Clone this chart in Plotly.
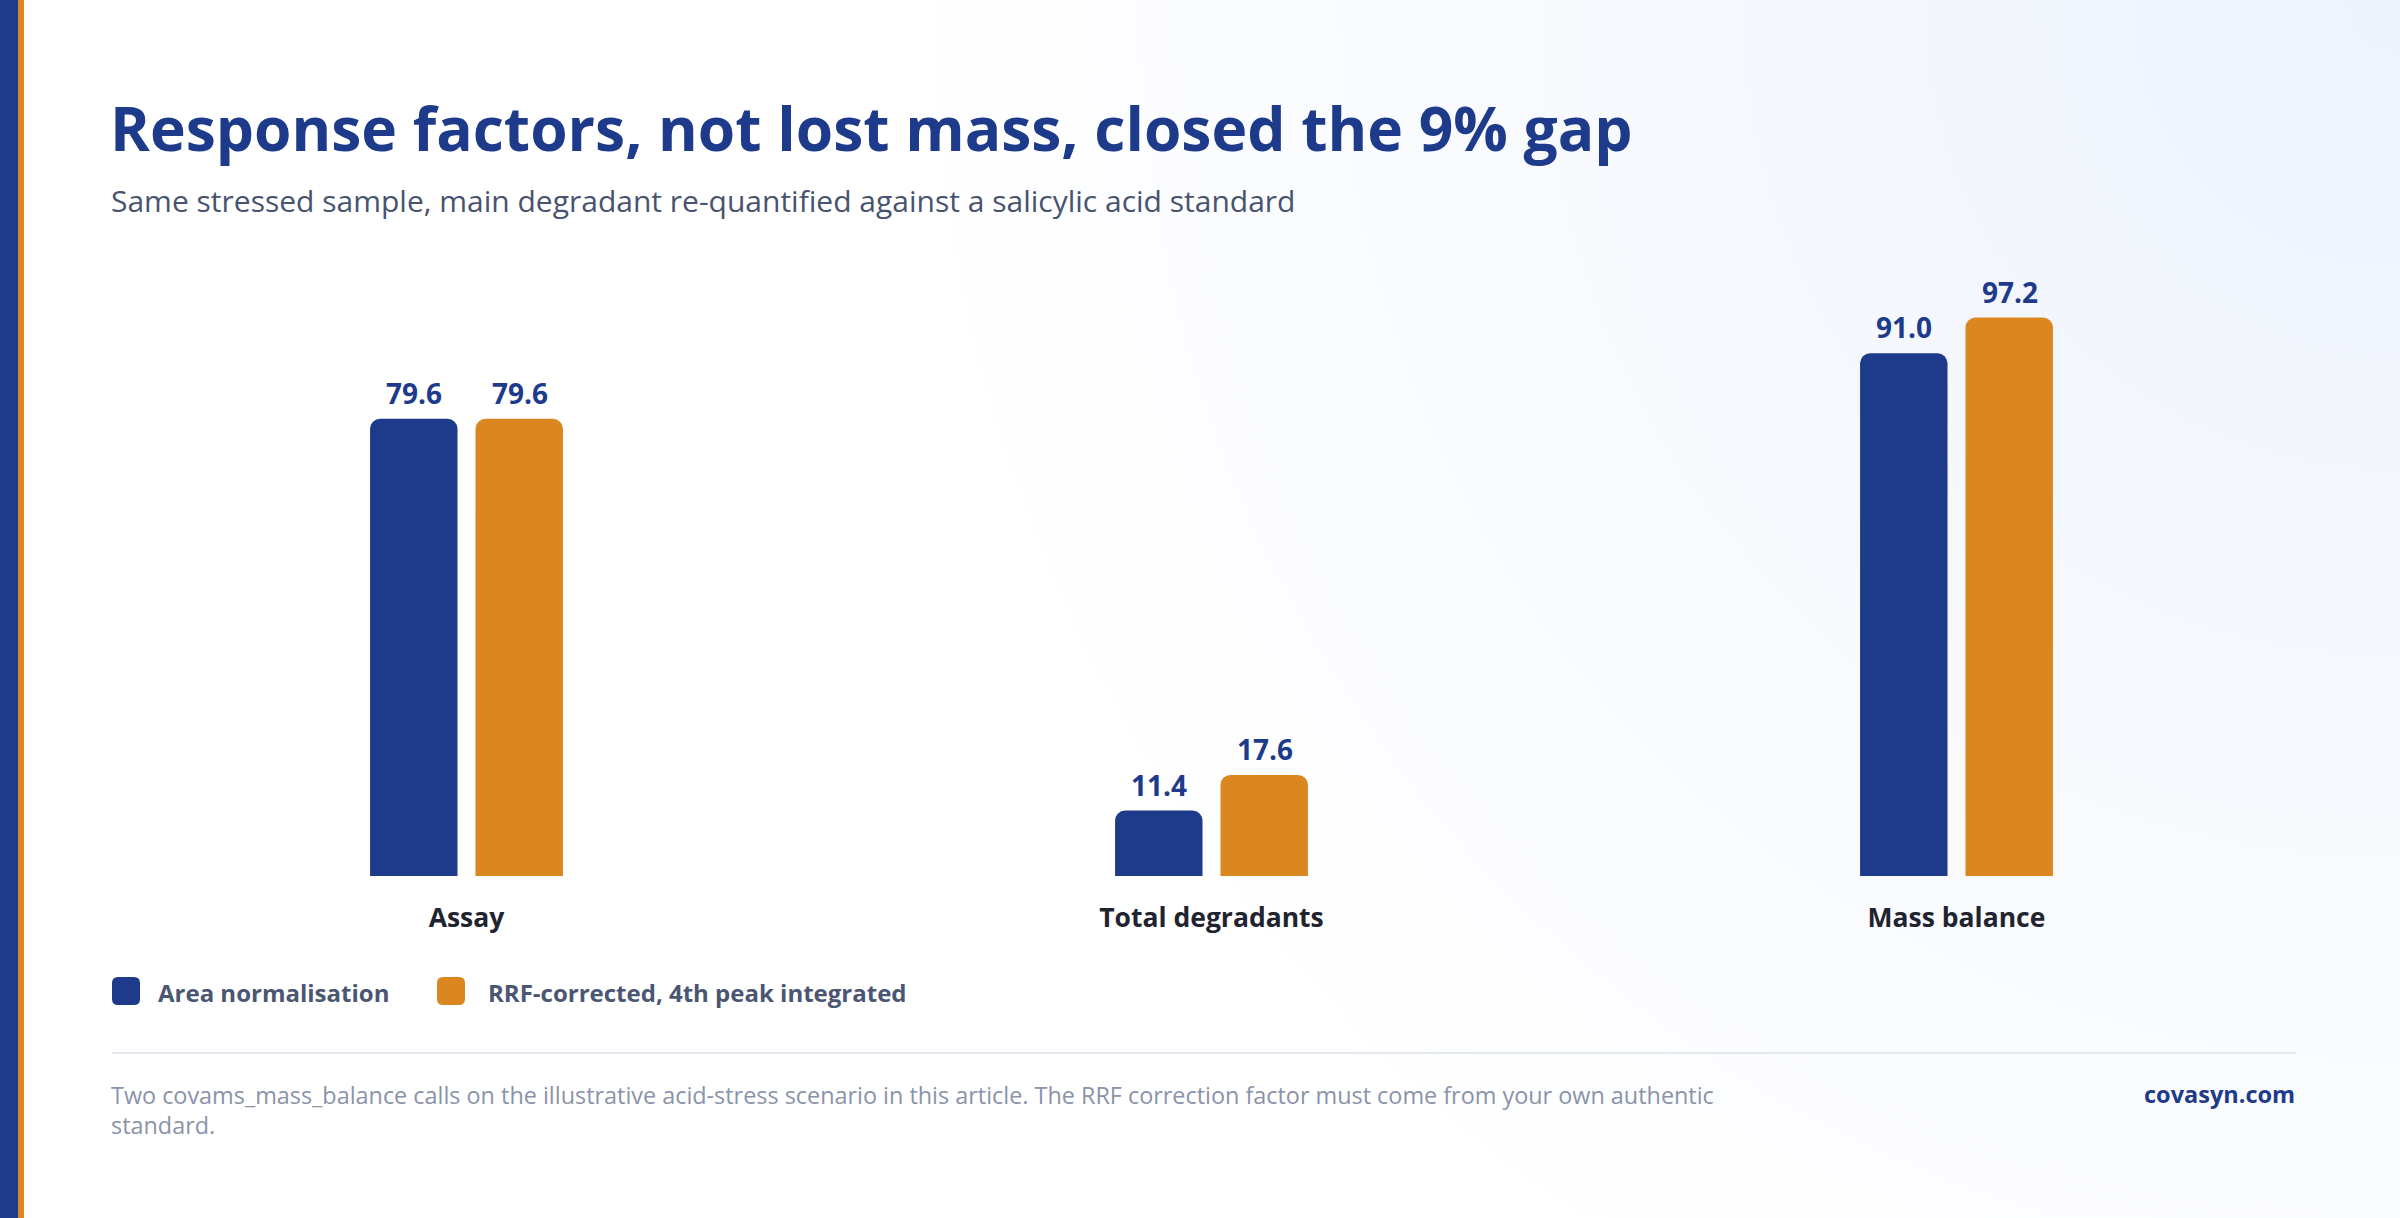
import base64
import plotly.graph_objects as go

# ---------------- data ----------------
categories = ["Assay", "Total degradants", "Mass balance"]
series_names = ["Area normalisation", "RRF-corrected, 4th peak integrated"]
area_norm = [79.6, 11.4, 91.0]
rrf_corrected = [79.6, 17.6, 97.2]
series_values = [area_norm, rrf_corrected]
series_colors = ["#1e3a8a", "#da8720"]

title_text = "Response factors, not lost mass, closed the 9% gap"
subtitle_text = "Same stressed sample, main degradant re-quantified against a salicylic acid standard"
footer_text = ("Two covams_mass_balance calls on the illustrative acid-stress scenario in this article. "
               "The RRF correction factor must come from your own authentic<br>standard.")
brand_text = "covasyn.com"

W, H = 2400, 1218
FONT = "Open Sans"


def px_x(x):
    return x / W


def px_y(y):
    return 1 - y / H


fig = go.Figure()
for name, vals, col in zip(series_names, series_values, series_colors):
    fig.add_trace(go.Bar(
        x=categories, y=vals, name=name, marker=dict(color=col, line=dict(width=0)),
        showlegend=False, hoverinfo="x+y",
    ))

# value labels (from data)
offsets = [-53, 53]
annotations = []
for vals, off in zip(series_values, offsets):
    for c, v in zip(categories, vals):
        annotations.append(dict(
            x=c, y=v, xref="x", yref="y", text=f"{v:.1f}", showarrow=False,
            xshift=off, yshift=26, yanchor="middle",
            font=dict(family=FONT, size=28, color="#1e3a8a", weight="bold"),
        ))

# title / subtitle
annotations.append(dict(
    x=px_x(108), y=px_y(127), xref="paper", yref="paper", xanchor="left", yanchor="middle",
    text=title_text, showarrow=False,
    font=dict(family=FONT, size=60.5, color="#1e3a8a", weight="bold"),
))
annotations.append(dict(
    x=px_x(109), y=px_y(201), xref="paper", yref="paper", xanchor="left", yanchor="middle",
    text=subtitle_text, showarrow=False,
    font=dict(family=FONT, size=30, color="#48536f"),
))

# legend (custom swatches)
legend_x = [112, 437]
legend_text_gap = [44, 49]
shapes = []
for name, col, lx, gap in zip(series_names, series_colors, legend_x, legend_text_gap):
    shapes.append(dict(
        type="path", xref="paper", yref="paper",
        path=(f"M {px_x(lx+6)},{px_y(977)} L {px_x(lx+22)},{px_y(977)} "
              f"Q {px_x(lx+28)},{px_y(977)} {px_x(lx+28)},{px_y(983)} "
              f"L {px_x(lx+28)},{px_y(999)} Q {px_x(lx+28)},{px_y(1005)} {px_x(lx+22)},{px_y(1005)} "
              f"L {px_x(lx+6)},{px_y(1005)} Q {px_x(lx)},{px_y(1005)} {px_x(lx)},{px_y(999)} "
              f"L {px_x(lx)},{px_y(983)} Q {px_x(lx)},{px_y(977)} {px_x(lx+6)},{px_y(977)} Z"),
        fillcolor=col, line=dict(width=0), layer="above",
    ))
    annotations.append(dict(
        x=px_x(lx + gap), y=px_y(992), xref="paper", yref="paper", xanchor="left", yanchor="middle",
        text=name, showarrow=False,
        font=dict(family=FONT, size=24, color="#4b5673", weight="bold"),
    ))

# divider
shapes.append(dict(type="line", xref="paper", yref="paper",
                   x0=px_x(112), x1=px_x(2296), y0=px_y(1053), y1=px_y(1053),
                   line=dict(color="#e4e8f1", width=2)))
# left stripes
shapes.append(dict(type="rect", xref="paper", yref="paper", x0=0, x1=px_x(18), y0=0, y1=1,
                   fillcolor="#1e3a8a", line=dict(width=0)))
shapes.append(dict(type="rect", xref="paper", yref="paper", x0=px_x(18), x1=px_x(24), y0=0, y1=1,
                   fillcolor="#da8720", line=dict(width=0)))

# footer
annotations.append(dict(
    x=px_x(109), y=px_y(1110), xref="paper", yref="paper", xanchor="left", yanchor="middle",
    text=footer_text, showarrow=False, align="left",
    font=dict(family=FONT, size=23.4, color="#8a93a9"),
))
annotations.append(dict(
    x=px_x(2297), y=px_y(1094), xref="paper", yref="paper", xanchor="right", yanchor="middle",
    text=brand_text, showarrow=False,
    font=dict(family=FONT, size=23.5, color="#1e3a8a", weight="bold"),
))

# background gradient
svg = (f'<svg xmlns="http://www.w3.org/2000/svg" width="{W}" height="{H}" viewBox="0 0 {W} {H}">'
       '<defs><radialGradient id="g" gradientUnits="userSpaceOnUse" cx="2400" cy="0" r="1500">'
       '<stop offset="0" stop-color="#edf2fc"/><stop offset="1" stop-color="#ffffff"/>'
       '</radialGradient></defs>'
       f'<rect width="{W}" height="{H}" fill="url(#g)"/></svg>')
bg_src = "data:image/svg+xml;base64," + base64.b64encode(svg.encode()).decode()

base_px = 876
unit_px = 5.745
y_top_px = base_px - 100 * unit_px

fig.update_layout(
    width=W, height=H,
    margin=dict(l=0, r=0, t=0, b=0),
    paper_bgcolor="#ffffff", plot_bgcolor="rgba(0,0,0,0)",
    barmode="group", bargap=0.717, bargroupgap=0.1706,
    barcornerradius=10,
    xaxis=dict(domain=[px_x(94), px_x(2329)], showgrid=False, zeroline=False, showline=False,
               ticks="", ticklabelstandoff=23,
               tickfont=dict(family=FONT, size=26.5, color="#1f2430", weight="bold")),
    yaxis=dict(domain=[px_y(base_px), px_y(y_top_px)], range=[0, 100], visible=False,
               showgrid=False, zeroline=False),
    annotations=annotations, shapes=shapes,
    images=[dict(source=bg_src, xref="paper", yref="paper", x=0, y=1, sizex=1, sizey=1,
                 xanchor="left", yanchor="top", sizing="stretch", layer="below")],
    font=dict(family=FONT),
)

fig.write_html("out.html")
